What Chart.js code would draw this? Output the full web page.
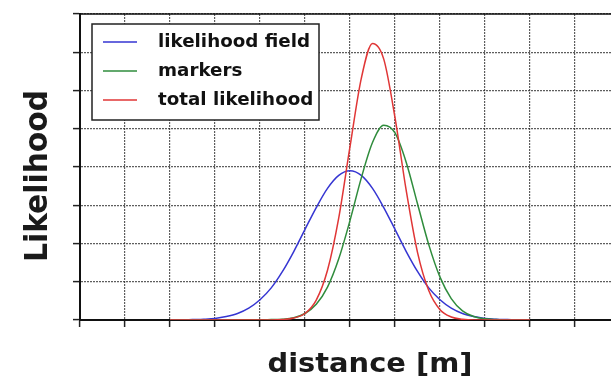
<!DOCTYPE html>
<html>
<head>
<meta charset="utf-8">
<script src="https://cdn.jsdelivr.net/npm/chart.js@4.4.1/dist/chart.umd.min.js"></script>
<style>
  html, body { margin: 0; padding: 0; background: #fff; overflow: hidden; }
  #wrap { width: 622px; height: 377px; }
</style>
</head>
<body>
<div id="wrap"><canvas id="likeChart" width="622" height="377"></canvas></div>
<script>
// --- data ---
const distance = [2, 2.25, 2.5, 2.75, 3, 3.25, 3.5, 3.75, 4, 4.25, 4.5, 4.75, 5, 5.25, 5.5, 5.75,
                  6, 6.25, 6.5, 6.75, 7, 7.25, 7.5, 7.75, 8, 8.25, 8.5, 8.75, 9, 9.25, 9.5, 9.75, 10];

const fieldVals  = [0, 0, 0.01, 0.02, 0.04, 0.09, 0.17, 0.31, 0.53, 0.84, 1.27, 1.79, 2.37, 2.94, 3.44, 3.78,
                    3.90, 3.78, 3.44, 2.94, 2.37, 1.79, 1.27, 0.84, 0.53, 0.31, 0.17, 0.09, 0.04, 0.02, 0.01, 0, 0];
const markerVals = [0, 0, 0, 0, 0, 0, 0, 0, 0, 0.01, 0.02, 0.06, 0.17, 0.41, 0.86, 1.60,
                    2.60, 3.71, 4.64, 5.09, 4.89, 4.12, 3.04, 1.97, 1.12, 0.56, 0.24, 0.09, 0.03, 0.01, 0, 0, 0];
const totalVals  = [0, 0, 0, 0, 0, 0, 0, 0, 0, 0, 0.01, 0.05, 0.17, 0.52, 1.30, 2.67,
                    4.53, 6.31, 7.23, 6.82, 5.29, 3.38, 1.77, 0.77, 0.27, 0.08, 0.02, 0, 0, 0, 0, 0, 0];

const seriesNames = ['likelihood field', 'markers', 'total likelihood'];
const seriesColors = ['#3535d2', '#2f8c3c', '#e03636'];

const xTitle = 'distance [m]';
const yTitle = 'Likelihood';

const toPts = vals => distance.map((d, i) => ({ x: d, y: vals[i] }));

const gridStyle = {
    color: 'rgba(40,40,40,0.75)',
    lineWidth: 1.2,
    drawTicks: true,
    tickLength: 7,
    tickColor: '#222',
    tickWidth: 1.5
};

// legend box, titles and top spine drawn on top
const decor = {
    id: 'decor',
    afterDraw(chart) {
        const ctx = chart.ctx;
        const area = chart.chartArea;
        ctx.save();

        // top spine
        ctx.strokeStyle = '#111';
        ctx.lineWidth = 1.5;
        ctx.beginPath();
        ctx.moveTo(area.left, area.top);
        ctx.lineTo(area.right + 5, area.top);
        ctx.stroke();

        // legend
        ctx.fillStyle = '#fff';
        ctx.fillRect(92, 24, 227, 96);
        ctx.strokeStyle = '#222';
        ctx.lineWidth = 1.5;
        ctx.strokeRect(92, 24, 227, 96);

        ctx.font = 'bold 17px "DejaVu Sans"';
        const sx = 152 / ctx.measureText(seriesNames[0]).width;
        const rows = [42, 71, 100];
        seriesNames.forEach((name, i) => {
            ctx.strokeStyle = seriesColors[i];
            ctx.lineWidth = 1.5;
            ctx.beginPath();
            ctx.moveTo(103, rows[i]);
            ctx.lineTo(137, rows[i]);
            ctx.stroke();
            ctx.save();
            ctx.translate(158, rows[i]);
            ctx.scale(sx, 1);
            ctx.fillStyle = '#111';
            ctx.textBaseline = 'middle';
            ctx.textAlign = 'left';
            ctx.fillText(name, 0, 1);
            ctx.restore();
        });

        // axis titles
        ctx.fillStyle = '#1a1a1a';
        ctx.font = 'bold 25px "DejaVu Sans"';
        ctx.save();
        ctx.translate(47, 176);
        ctx.rotate(-Math.PI / 2);
        ctx.scale(172 / ctx.measureText(yTitle).width, 1.25);
        ctx.textAlign = 'center';
        ctx.textBaseline = 'alphabetic';
        ctx.fillText(yTitle, 0, 0);
        ctx.restore();

        ctx.font = 'bold 26px "DejaVu Sans"';
        ctx.save();
        ctx.translate(370, 372);
        ctx.scale(205 / ctx.measureText(xTitle).width, 1);
        ctx.textAlign = 'center';
        ctx.textBaseline = 'alphabetic';
        ctx.fillText(xTitle, 0, 0);
        ctx.restore();

        ctx.restore();
    }
};

const bg = {
    id: 'bg',
    beforeDraw(chart) {
        const ctx = chart.ctx;
        ctx.save();
        ctx.fillStyle = '#fff';
        ctx.fillRect(0, 0, chart.width, chart.height);
        ctx.restore();
    }
};

const ctxMain = document.getElementById('likeChart').getContext('2d');
const likeChart = new Chart(ctxMain, {
    type: 'line',
    data: {
        datasets: [
            { label: seriesNames[0], data: toPts(fieldVals),  borderColor: seriesColors[0], order: 2 },
            { label: seriesNames[1], data: toPts(markerVals), borderColor: seriesColors[1], order: 1 },
            { label: seriesNames[2], data: toPts(totalVals),  borderColor: seriesColors[2], order: 0 }
        ]
    },
    options: {
        responsive: false,
        animation: false,
        events: [],
        layout: { padding: { top: 14, right: 2, left: 0, bottom: 0 } },
        elements: {
            line: { borderWidth: 1.5, cubicInterpolationMode: 'monotone', fill: false },
            point: { radius: 0 }
        },
        plugins: { legend: { display: false }, tooltip: { enabled: false } },
        scales: {
            x: {
                type: 'linear', min: 0, max: 12,
                ticks: { stepSize: 1, display: false },
                grid: gridStyle,
                border: { display: true, color: '#111', width: 2, dash: [2, 1] },
                afterFit: s => { s.height = 57; }
            },
            y: {
                min: 0, max: 8,
                ticks: { stepSize: 1, display: false },
                grid: gridStyle,
                border: { display: true, color: '#111', width: 2, dash: [2, 1] },
                afterFit: s => { s.width = 80; }
            }
        }
    },
    plugins: [bg, decor]
});
</script>
</body>
</html>
